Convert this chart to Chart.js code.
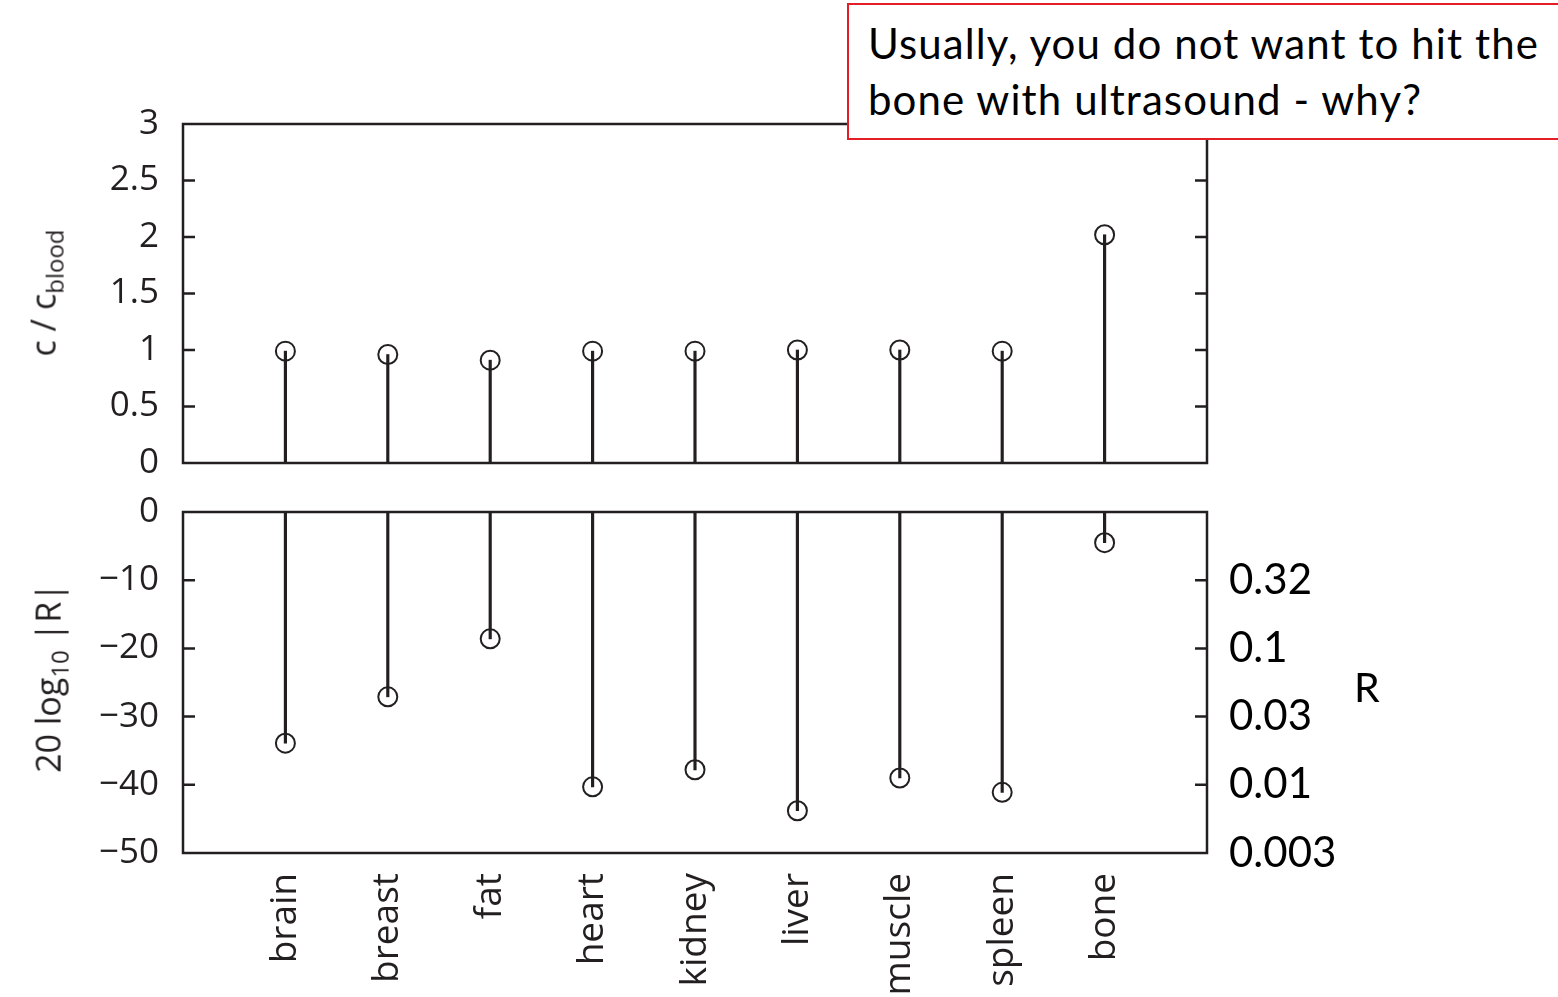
<!DOCTYPE html>
<html>
<head>
<meta charset="utf-8">
<script src="https://cdn.jsdelivr.net/npm/chart.js@4.4.1/dist/chart.umd.min.js"></script>
<style>
  body { margin: 0; background: #fff; }
  #wrap { position: relative; width: 1558px; height: 997px; overflow: hidden; }
  canvas { position: absolute; left: 0; top: 0; }
  .ytitle { position: absolute; font-family: "Open Sans", sans-serif; font-size: 34px; color: #231f20;
            white-space: nowrap; transform: translate(-50%, -50%) rotate(-90deg); }
  .ytitle sub { font-size: 24px; }
  #rlab { position: absolute; left: 1354px; top: 662px; font-family: Lato, sans-serif; font-size: 41px; color: #000; }
  #note { position: absolute; left: 847px; top: 3px; width: 760px; height: 137px; background: #fff;
          border: 2px solid #e41e26; box-sizing: border-box; padding: 10px 0 0 19px;
          font-family: Lato, sans-serif; font-size: 42px; letter-spacing: 1.1px; line-height: 56px; color: #000; }
</style>
</head>
<body>
<div id="wrap">
  <canvas id="top" width="1558" height="997"></canvas>
  <canvas id="bot" width="1558" height="997"></canvas>
  <div class="ytitle" style="left:45px; top:293px;">c / c<sub>blood</sub></div>
  <div class="ytitle" style="left:50px; top:678px;">20 log<sub>10</sub> |R|</div>
  <div id="rlab">R</div>
  <div id="note">Usually, you do not want to hit the<br>bone with ultrasound - why?</div>
</div>
<script>
var tissues = ['brain', 'breast', 'fat', 'heart', 'kidney', 'liver', 'muscle', 'spleen', 'bone'];
var speedRatio = [0.99, 0.96, 0.91, 0.99, 0.99, 1.0, 1.0, 0.99, 2.02];
var reflectionDb = [-33.9, -27.1, -18.6, -40.3, -37.8, -43.8, -39.0, -41.1, -4.5];
var rTickValues = [-10, -20, -30, -40, -50];
var rTickLabels = ['0.32', '0.1', '0.03', '0.01', '0.003'];

var ink = '#231f20';
var tickFont = { family: 'Open Sans', size: 35 };

function pts(vals) {
  return vals.map(function (v, i) { return { x: i + 1, y: v }; });
}

// box round the plot area plus short inward ticks on both sides
var framePlugin = {
  id: 'frame',
  afterDatasetsDraw: function (chart) {
    var ctx = chart.ctx, a = chart.chartArea, y = chart.scales.y;
    ctx.save();
    ctx.strokeStyle = ink;
    ctx.lineWidth = 2.5;
    ctx.strokeRect(a.left, a.top, a.right - a.left, a.bottom - a.top);
    ctx.beginPath();
    y.ticks.forEach(function (t) {
      var py = y.getPixelForValue(t.value);
      if (py <= a.top + 2 || py >= a.bottom - 2) return;
      ctx.moveTo(a.left, py); ctx.lineTo(a.left + 12, py);
      ctx.moveTo(a.right - 12, py); ctx.lineTo(a.right, py);
    });
    ctx.stroke();
    ctx.restore();
  }
};

function stemSets(vals) {
  return [
    { type: 'bar', data: pts(vals), backgroundColor: ink, barThickness: 2.5, order: 2 },
    { type: 'scatter', data: pts(vals), pointRadius: 9.5, pointBorderWidth: 2,
      pointBorderColor: ink, pointBackgroundColor: 'rgba(0,0,0,0)', order: 1 }
  ];
}

var common = {
  responsive: false,
  animation: false,
  events: [],
  plugins: { legend: { display: false }, tooltip: { enabled: false } }
};

new Chart(document.getElementById('top'), {
  type: 'bar',
  data: { datasets: stemSets(speedRatio) },
  plugins: [framePlugin],
  options: Object.assign({}, common, {
    layout: { padding: { top: 124, right: 351, bottom: 534, left: 0 } },
    scales: {
      x: { type: 'linear', min: 0, max: 10, offset: false, display: false },
      y: {
        min: 0, max: 3,
        afterFit: function (s) { s.width = 183; },
        grid: { display: false, drawTicks: false },
        border: { display: false },
        ticks: { stepSize: 0.5, padding: 24, color: ink, font: tickFont,
                 callback: function (v) { return String(v); } }
      }
    }
  })
});

new Chart(document.getElementById('bot'), {
  type: 'bar',
  data: { datasets: stemSets(reflectionDb) },
  plugins: [framePlugin],
  options: Object.assign({}, common, {
    layout: { padding: { top: 512, right: 0, bottom: 0, left: 0 } },
    scales: {
      x: {
        type: 'linear', min: 0, max: 10, offset: false,
        afterFit: function (s) { s.height = 144; },
        afterBuildTicks: function (s) {
          s.ticks = tissues.map(function (t, i) { return { value: i + 1 }; });
        },
        grid: { display: false, drawTicks: false },
        border: { display: false },
        ticks: { autoSkip: false, minRotation: 90, maxRotation: 90, padding: 20, color: ink,
                 font: { family: 'Open Sans', size: 37 },
                 callback: function (v) { return tissues[v - 1]; } }
      },
      y: {
        min: -50, max: 0,
        afterFit: function (s) { s.width = 183; },
        grid: { display: false, drawTicks: false },
        border: { display: false },
        ticks: { stepSize: 10, padding: 24, color: ink, font: tickFont,
                 callback: function (v) { return v < 0 ? '\u2212' + (-v) : String(v); } }
      },
      r: {
        position: 'right', min: -50, max: 0,
        afterFit: function (s) { s.width = 351; },
        afterBuildTicks: function (s) {
          s.ticks = rTickValues.map(function (v) { return { value: v }; });
        },
        grid: { display: false, drawTicks: false },
        border: { display: false },
        ticks: { autoSkip: false, padding: 22, color: '#000', font: { family: 'Lato', size: 42 },
                 callback: function (v) { return rTickLabels[rTickValues.indexOf(v)]; } }
      }
    }
  })
});
</script>
</body>
</html>
